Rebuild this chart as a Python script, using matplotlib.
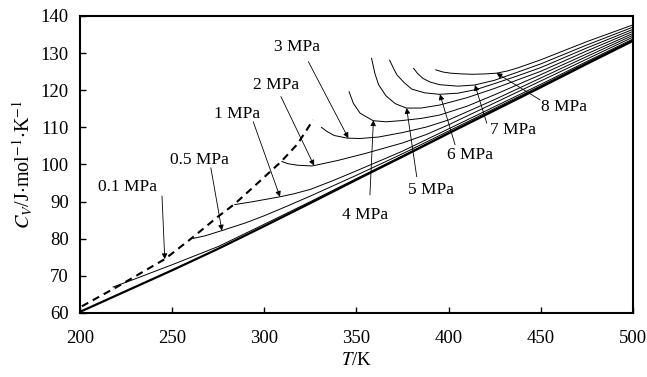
import matplotlib
matplotlib.use("Agg")
import matplotlib.pyplot as plt

plt.rcParams['font.family'] = ['Liberation Serif', 'DejaVu Serif']
plt.rcParams['mathtext.fontset'] = 'stix'

#%% data

# ideal gas line (thick)
T_ideal = [200, 225, 250, 275, 300, 325, 350, 375, 400, 425, 450, 475, 500]
Cv_ideal = [60.3, 65.9, 71.5, 77.3, 83.4, 89.6, 95.9, 102.1, 108.4, 114.6,
            120.8, 127.1, 133.3]

# saturation line (dashed)
T_sat = [201, 220, 246, 261, 275, 284, 296, 309, 318, 326.5]
Cv_sat = [61.8, 67.0, 74.5, 80.3, 86.0, 89.4, 94.8, 100.7, 105.5, 112.0]

# isobars
T_01 = [218, 230, 250, 275, 300, 325, 350, 375, 400, 425, 450, 475, 500]
Cv_01 = [67.0, 69.2, 73.0, 77.9, 83.9, 90.0, 96.2, 102.35, 108.6, 114.75,
         120.9, 127.2, 133.35]

T_05 = [261.5, 268, 277, 290, 300, 312, 325, 350, 375, 400, 425, 450, 475,
        500]
Cv_05 = [80.1, 80.8, 82.2, 84.3, 86.2, 88.7, 91.5, 97.1, 102.9, 109.0, 115.1,
         121.2, 127.45, 133.55]

T_1 = [284, 294, 308.5, 316, 325, 337, 350, 375, 400, 425, 450, 475, 500]
Cv_1 = [89.2, 90.0, 91.3, 92.1, 93.3, 95.6, 98.3, 103.6, 109.6, 115.6, 121.6,
        127.75, 133.8]

T_2 = [309.5, 313, 318, 326, 340, 355, 375, 388, 400, 425, 450, 475, 500]
Cv_2 = [100.8, 100.2, 99.8, 99.6, 101.1, 103.0, 105.8, 108.1, 110.7, 116.6,
        122.5, 128.4, 134.3]

T_3 = [331, 334, 338, 345, 352, 362, 375, 388, 400, 425, 450, 475, 500]
Cv_3 = [110.0, 108.9, 107.8, 107.1, 107.0, 107.4, 108.6, 110.1, 112.0, 117.5,
        123.3, 129.1, 134.8]

T_4 = [346, 348.3, 352, 359, 366, 374, 385, 395, 410, 425, 450, 475, 500]
Cv_4 = [119.6, 116.5, 113.8, 111.8, 111.5, 111.8, 112.4, 113.3, 115.7, 118.8,
        124.2, 129.8, 135.3]

T_5 = [358.2, 360, 362, 366, 371, 377, 385, 395, 410, 425, 450, 475, 500]
Cv_5 = [128.6, 124.5, 121.5, 118.5, 116.4, 115.2, 115.2, 116.0, 118.0, 120.5,
        125.1, 130.6, 135.85]

T_6 = [368, 370, 372, 376, 380, 387, 395, 405, 415, 425, 437, 450, 475, 500]
Cv_6 = [128.1, 126.0, 124.1, 122.0, 120.3, 119.3, 118.9, 119.2, 120.2, 121.8,
        123.8, 126.1, 131.4, 136.4]

T_7 = [381, 383, 386, 390, 395, 405, 414, 425, 437, 450, 475, 500]
Cv_7 = [125.9, 124.6, 123.2, 122.2, 121.5, 121.1, 121.4, 122.7, 124.8, 127.1,
        132.2, 137.0]

T_8 = [393, 397, 401, 407, 413, 420, 426, 432, 438, 450, 475, 500]
Cv_8 = [125.5, 124.9, 124.6, 124.4, 124.3, 124.4, 124.6, 125.2, 126.1, 128.2,
        133.1, 137.6]

isobars = [(T_01, Cv_01), (T_05, Cv_05), (T_1, Cv_1), (T_2, Cv_2),
           (T_3, Cv_3), (T_4, Cv_4), (T_5, Cv_5), (T_6, Cv_6),
           (T_7, Cv_7), (T_8, Cv_8)]

labels = ['0.1 MPa', '0.5 MPa', '1 MPa', '2 MPa', '3 MPa', '4 MPa',
          '5 MPa', '6 MPa', '7 MPa', '8 MPa']

#%% label placement: text centre, arrow tail, arrow tip

label_xy = [(226, 93.9), (264.6, 101.2), (285.2, 113.6), (306.3, 121.4),
            (317.7, 131.6), (354.6, 86.4), (390.4, 93.1), (411.6, 102.6),
            (435.0, 109.3), (462.6, 115.5)]
tail_xy = [(244.5, 91.5), (271, 99.1), (294, 111.5), (309, 118.3),
           (323.9, 127.7), (357.3, 91.8), (382.7, 96.7), (403.5, 105.3),
           (420.7, 111.1), (449.6, 117.4)]
tip_xy = [(246, 74.5), (277, 82.2), (308.5, 91.3), (327, 99.7),
          (345.6, 107.1), (359.2, 111.9), (377.2, 115.2), (395.3, 118.9),
          (414.3, 121.4), (426, 124.6)]

#%% plot

fig = plt.figure(figsize=(6.47, 3.77), dpi=100)
ax = fig.add_axes([0.1236, 0.1698, 0.8547, 0.7878])

ax.plot(T_ideal, Cv_ideal, 'k-', lw=1.6, zorder=3)
ax.plot(T_sat, Cv_sat, color='k', lw=1.5, dashes=(3.5, 2.5), zorder=3)
for T, Cv in isobars:
    ax.plot(T, Cv, 'k-', lw=0.7, zorder=2)

for lab, txy, tail, tip in zip(labels, label_xy, tail_xy, tip_xy):
    ax.text(txy[0], txy[1], lab, fontsize=12.5, ha='center', va='center')
    ax.annotate('', xy=tip, xytext=tail,
                arrowprops=dict(arrowstyle='-|>', lw=0.6, color='k',
                                mutation_scale=8, shrinkA=0, shrinkB=0))

ax.set_xlim(200, 500)
ax.set_ylim(60, 140)
ax.set_xticks(range(200, 501, 50))
ax.set_yticks(range(60, 141, 10))
ax.tick_params(direction='in', length=4, width=1, labelsize=13.5)
ax.tick_params(axis='x', pad=12)
ax.tick_params(axis='y', pad=8)
for s in ax.spines.values():
    s.set_linewidth(1.5)

ax.set_xlabel(r'$T$/K', fontsize=13.5, labelpad=4)
ax.set_ylabel(r'$C_V$/J$\cdot$mol$^{-1}$$\cdot$K$^{-1}$', fontsize=14.5,
              labelpad=4)

fig.savefig('out.png', dpi=100)
